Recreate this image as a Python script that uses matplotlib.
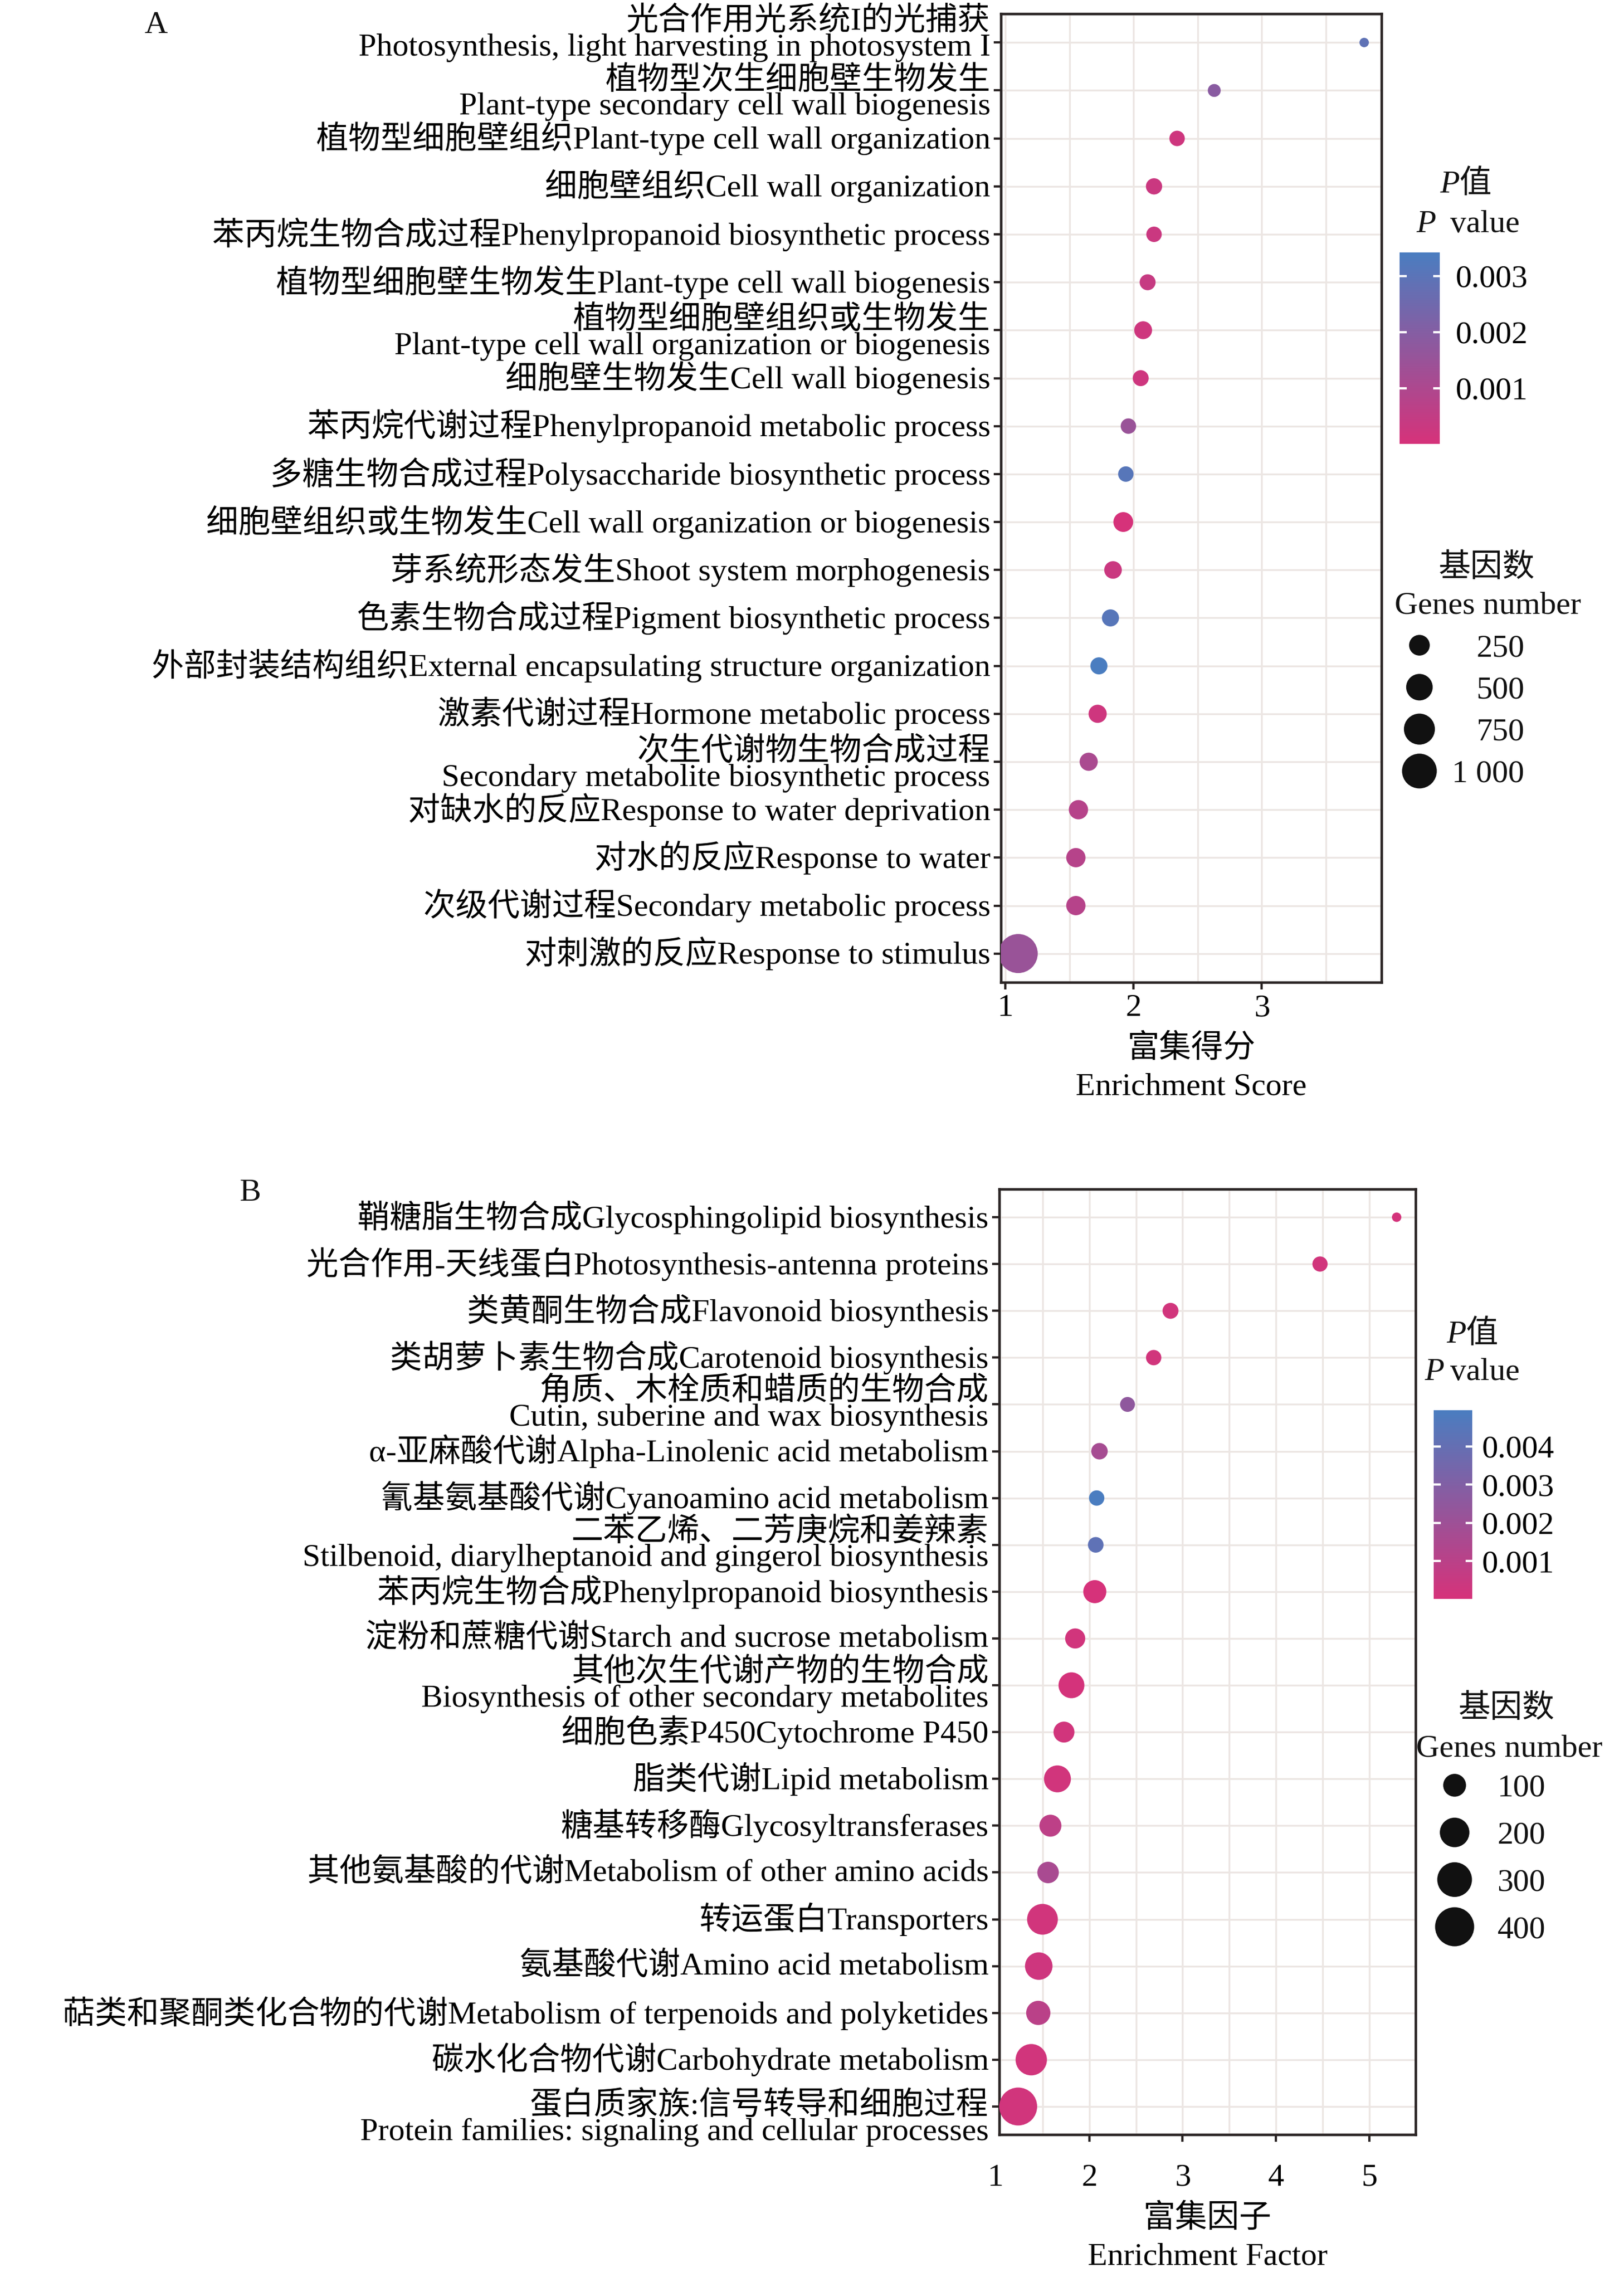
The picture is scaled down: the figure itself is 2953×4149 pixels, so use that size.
import numpy as np
import matplotlib
matplotlib.use("Agg")
import matplotlib.pyplot as plt
from matplotlib.colors import LinearSegmentedColormap, Normalize
from matplotlib.cm import ScalarMappable
from matplotlib.ticker import MultipleLocator
from matplotlib.transforms import ScaledTranslation

plt.rcParams['font.family'] = ['Liberation Serif', 'Noto Sans CJK SC']
plt.rcParams['font.size'] = 14
plt.rcParams['font.weight'] = 'light'
plt.rcParams['text.color'] = '#111111'
plt.rcParams['axes.unicode_minus'] = False

W, H, DPI = 2953, 4149, 300

# ---------------- panel A : GO enrichment ----------------
go_terms = [
    "光合作用光系统I的光捕获\nPhotosynthesis, light harvesting in photosystem I",
    "植物型次生细胞壁生物发生\nPlant-type secondary cell wall biogenesis",
    "植物型细胞壁组织Plant-type cell wall organization",
    "细胞壁组织Cell wall organization",
    "苯丙烷生物合成过程Phenylpropanoid biosynthetic process",
    "植物型细胞壁生物发生Plant-type cell wall biogenesis",
    "植物型细胞壁组织或生物发生\nPlant-type cell wall organization or biogenesis",
    "细胞壁生物发生Cell wall biogenesis",
    "苯丙烷代谢过程Phenylpropanoid metabolic process",
    "多糖生物合成过程Polysaccharide biosynthetic process",
    "细胞壁组织或生物发生Cell wall organization or biogenesis",
    "芽系统形态发生Shoot system morphogenesis",
    "色素生物合成过程Pigment biosynthetic process",
    "外部封装结构组织External encapsulating structure organization",
    "激素代谢过程Hormone metabolic process",
    "次生代谢物生物合成过程\nSecondary metabolite biosynthetic process",
    "对缺水的反应Response to water deprivation",
    "对水的反应Response to water",
    "次级代谢过程Secondary metabolic process",
    "对刺激的反应Response to stimulus",
]
go_score = [3.80, 2.63, 2.34, 2.16, 2.16, 2.11, 2.075, 2.056, 1.96, 1.94,
            1.92, 1.84, 1.82, 1.73, 1.72, 1.65, 1.57, 1.55, 1.55, 1.10]
go_pvalue = [0.0029, 0.0019, 0.0002, 0.0003, 0.0003, 0.0004, 0.0002, 0.0002, 0.0015, 0.0031,
             0.00001, 0.0003, 0.0031, 0.00342, 0.0002, 0.0011, 0.0008, 0.0008, 0.0008, 0.0015]
go_genes = [10, 50, 98, 117, 98, 110, 160, 110, 98, 98,
            219, 152, 138, 138, 168, 168, 202, 202, 202, 1326]
go_size_breaks = [250, 500, 750, 1000]
go_size_labels = ["250", "500", "750", "1 000"]
go_p_breaks = [0.001, 0.002, 0.003]

# ---------------- panel B : KEGG enrichment ----------------
kegg_terms = [
    "鞘糖脂生物合成Glycosphingolipid biosynthesis",
    "光合作用-天线蛋白Photosynthesis-antenna proteins",
    "类黄酮生物合成Flavonoid biosynthesis",
    "类胡萝卜素生物合成Carotenoid biosynthesis",
    "角质、木栓质和蜡质的生物合成\nCutin, suberine and wax biosynthesis",
    "α-亚麻酸代谢Alpha-Linolenic acid metabolism",
    "氰基氨基酸代谢Cyanoamino acid metabolism",
    "二苯乙烯、二芳庚烷和姜辣素\nStilbenoid, diarylheptanoid and gingerol biosynthesis",
    "苯丙烷生物合成Phenylpropanoid biosynthesis",
    "淀粉和蔗糖代谢Starch and sucrose metabolism",
    "其他次生代谢产物的生物合成\nBiosynthesis of other secondary metabolites",
    "细胞色素P450Cytochrome P450",
    "脂类代谢Lipid metabolism",
    "糖基转移酶Glycosyltransferases",
    "其他氨基酸的代谢Metabolism of other amino acids",
    "转运蛋白Transporters",
    "氨基酸代谢Amino acid metabolism",
    "萜类和聚酮类化合物的代谢Metabolism of terpenoids and polyketides",
    "碳水化合物代谢Carbohydrate metabolism",
    "蛋白质家族:信号转导和细胞过程\nProtein families: signaling and cellular processes",
]
kegg_factor = [5.29, 4.47, 2.87, 2.69, 2.41, 2.11, 2.08, 2.07, 2.06, 1.85,
               1.81, 1.73, 1.66, 1.585, 1.56, 1.50, 1.46, 1.455, 1.38, 1.24]
kegg_pvalue = [0.0001, 0.0002, 0.0002, 0.0002, 0.0025, 0.0017, 0.00495, 0.0042, 0.00001, 0.0002,
               0.0001, 0.0002, 0.0002, 0.0009, 0.0016, 0.0002, 0.0003, 0.0010, 0.0002, 0.0002]
kegg_genes = [3, 28, 33, 29, 26, 37, 29, 31, 103, 69,
              141, 78, 157, 90, 84, 222, 166, 118, 233, 373]
kegg_size_breaks = [100, 200, 300, 400]
kegg_size_labels = ["100", "200", "300", "400"]
kegg_p_breaks = [0.001, 0.002, 0.003, 0.004]

cmap = LinearSegmentedColormap.from_list("pval", ["#D6327A", "#4A7DC0"])
GRID = "#ECE6E3"
FRAME = "#2A2424"

fig = plt.figure(figsize=(W / DPI, H / DPI), dpi=DPI)


def px_axes(left, top, right, bottom):
    return fig.add_axes([left / W, 1 - bottom / H, (right - left) / W, (bottom - top) / H])


def dot_size(genes, slope, base=12):
    # diameter in pixels grows with sqrt(gene count); returned as scatter area (pt^2)
    d = base + slope * np.sqrt(np.asarray(genes, float))
    return (d * 72 / DPI) ** 2


def dot_panel(ax, terms, x, pvals, genes, slope, xticks, xlabel, xpad, nudge):
    n = len(terms)
    rows = np.arange(1, n + 1)
    norm = Normalize(min(pvals), max(pvals))
    ax.scatter(x, rows, s=dot_size(genes, slope), c=pvals, cmap=cmap, norm=norm,
               edgecolors='none', zorder=3)
    span = max(x) - min(x)
    ax.set_xlim(min(x) - 0.05 * span, max(x) + 0.05 * span)
    ax.set_ylim(n + 0.6, 0.4)
    ax.set_yticks(rows)
    ax.set_yticklabels(terms, linespacing=0.87)
    ax.set_xticks(xticks)
    ax.xaxis.set_minor_locator(MultipleLocator(0.5))
    ax.grid(True, which='both', color=GRID, lw=0.8)
    ax.set_axisbelow(True)
    ax.tick_params(which='minor', length=0)
    ax.tick_params(which='major', length=3.1, width=1.0, color=FRAME, labelsize=14)
    ax.tick_params(axis='x', pad=xpad)
    ax.tick_params(axis='y', pad=1.5)
    for i, t in enumerate(ax.get_yticklabels()):
        t.set_va("center")
        if i in nudge:
            # some two-line labels sit a little off their row in the original
            t.set_transform(t.get_transform() +
                            ScaledTranslation(0, nudge[i] / DPI, fig.dpi_scale_trans))
    for s in ax.spines.values():
        s.set_color(FRAME)
        s.set_linewidth(1.1)
    ax.set_xlabel(xlabel, linespacing=1.4, labelpad=5, fontsize=14)
    return norm


def p_colorbar(box, norm, ticks, pad):
    cax = px_axes(*box)
    cb = fig.colorbar(ScalarMappable(norm=norm, cmap=cmap), cax=cax, ticks=ticks)
    cb.outline.set_visible(False)
    cb.set_ticklabels([f"{t:.3f}" for t in ticks])
    cax.tick_params(direction='in', length=3, width=1.0, color='white',
                    left=True, right=True, labelsize=14, pad=pad)


def size_legend(box, values, labels, slope, dot_x, label_x):
    lax = px_axes(*box)
    lax.set_xlim(box[0], box[2])
    n = len(values)
    lax.set_ylim(n - 0.5, -0.5)
    lax.scatter(np.full(n, dot_x), np.arange(n), s=dot_size(values, slope),
                color='#111111', edgecolors='none', clip_on=False)
    for i, lab in enumerate(labels):
        lax.text(label_x, i, lab, ha='right', va='center_baseline', fontsize=14)
    lax.axis('off')


def ptext(x, y, s, **kw):
    fig.text(x / W, 1 - y / H, s, fontsize=14, **kw)


# ---- panel A ----
axA = px_axes(1820, 25, 2512, 1786)
normA = dot_panel(axA, go_terms, go_score, go_pvalue, go_genes, 1.62,
                  [1, 2, 3], "富集得分\nEnrichment Score", xpad=2,
                  nudge={0: 15, 1: -5, 6: -5, 15: -5})
p_colorbar((2545, 459, 2618, 807), normA, go_p_breaks, pad=7)
size_legend((2520, 1135, 2900, 1440), go_size_breaks, go_size_labels, 1.62, 2581, 2772)

ptext(2618, 350, "P", style='italic', va='baseline')
ptext(2653, 350, "值", va='baseline')
ptext(2575, 422, "P", style='italic', va='baseline')
ptext(2637, 422, "value", va='baseline')
ptext(2703, 1048, "基因数", ha='center', va='baseline')
ptext(2705, 1116, "Genes number", ha='center', va='baseline')
ptext(283, 46, "A", ha='center', va='center')

# ---- panel B ----
axB = px_axes(1817, 2162, 2574, 3881)
normB = dot_panel(axB, kegg_terms, kegg_factor, kegg_pvalue, kegg_genes, 2.95,
                  [2, 3, 4, 5], "富集因子\nEnrichment Factor", xpad=9.6, nudge={19: -22})
# left-most break "1" sits just outside the expanded x range
axB.annotate("1", xy=(1, 0), xycoords=('data', 'axes fraction'),
             xytext=(0, -(3.1 + 9.6)), textcoords='offset points',
             ha='center', va='top', fontsize=14, annotation_clip=False)
p_colorbar((2607, 2564, 2677, 2907), normB, kegg_p_breaks, pad=4.3)
size_legend((2580, 3203, 2900, 3546), kegg_size_breaks, kegg_size_labels, 2.95, 2645, 2810)

ptext(2630, 2441, "P", style='italic', va='baseline')
ptext(2665, 2441, "值", va='baseline')
ptext(2590, 2509, "P", style='italic', va='baseline')
ptext(2637, 2509, "value", va='baseline')
ptext(2739, 3122, "基因数", ha='center', va='baseline')
ptext(2744, 3193, "Genes number", ha='center', va='baseline')
ptext(455, 2169, "B", ha='center', va='center')

fig.savefig("out.png", dpi=DPI)
